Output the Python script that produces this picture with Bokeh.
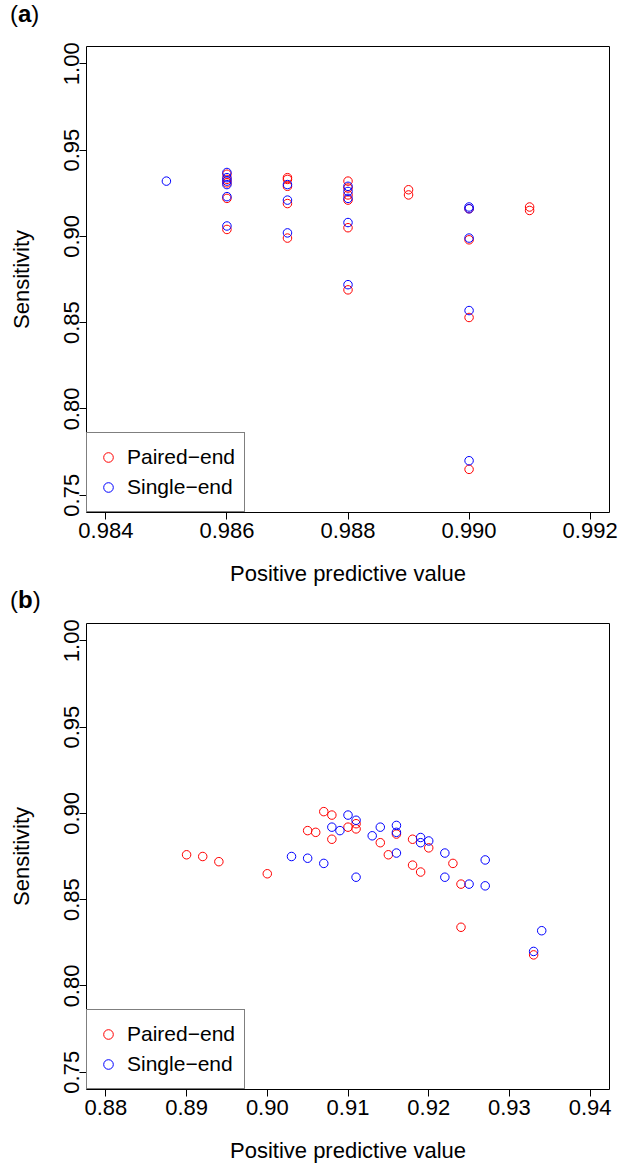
from bokeh.plotting import figure
from bokeh.models import Range1d, FixedTicker, PrintfTickFormatter, Div
from bokeh.layouts import column
from bokeh.embed import file_html
from bokeh.resources import INLINE

FONT = "Liberation Sans"

# ---------------- data: panel (a) ----------------
a_paired_ppv = [0.986, 0.986, 0.986, 0.986, 0.986,
                0.987, 0.987, 0.987, 0.987, 0.987,
                0.988, 0.988, 0.988, 0.988, 0.988, 0.988,
                0.989, 0.989,
                0.990, 0.990, 0.990, 0.990,
                0.991, 0.991]
a_paired_sens = [0.936, 0.933, 0.931, 0.922, 0.904,
                 0.934, 0.933, 0.929, 0.919, 0.899,
                 0.932, 0.928, 0.924, 0.921, 0.905, 0.869,
                 0.927, 0.924,
                 0.916, 0.898, 0.853, 0.765,
                 0.917, 0.915]
a_single_ppv = [0.985,
                0.986, 0.986, 0.986, 0.986, 0.986, 0.986,
                0.987, 0.987, 0.987,
                0.988, 0.988, 0.988, 0.988, 0.988,
                0.990, 0.990, 0.990, 0.990, 0.990]
a_single_sens = [0.932,
                 0.937, 0.934, 0.932, 0.930, 0.923, 0.906,
                 0.930, 0.921, 0.902,
                 0.929, 0.926, 0.922, 0.908, 0.872,
                 0.917, 0.916, 0.899, 0.857, 0.770]

# ---------------- data: panel (b) ----------------
b_paired_ppv = [0.890, 0.892, 0.894, 0.900, 0.905, 0.906, 0.907, 0.908, 0.908,
                0.910, 0.911, 0.911, 0.914, 0.915, 0.916, 0.918, 0.918, 0.919,
                0.920, 0.923, 0.924, 0.924, 0.933]
b_paired_sens = [0.876, 0.875, 0.872, 0.865, 0.890, 0.889, 0.901, 0.899, 0.885,
                 0.892, 0.894, 0.891, 0.883, 0.876, 0.888, 0.885, 0.870, 0.866,
                 0.880, 0.871, 0.859, 0.834, 0.818]
b_single_ppv = [0.903, 0.905, 0.907, 0.908, 0.909, 0.910, 0.911, 0.911, 0.913,
                0.914, 0.916, 0.916, 0.916, 0.919, 0.919, 0.920, 0.922, 0.922,
                0.925, 0.927, 0.927, 0.933, 0.934]
b_single_sens = [0.875, 0.874, 0.871, 0.892, 0.890, 0.899, 0.896, 0.863, 0.887,
                 0.892, 0.893, 0.889, 0.877, 0.886, 0.883, 0.884, 0.877, 0.863,
                 0.859, 0.873, 0.858, 0.820, 0.832]

# ---------------- ticks / labels ----------------
a_x_ticks = [0.984, 0.986, 0.988, 0.990, 0.992]
b_x_ticks = [0.88, 0.89, 0.90, 0.91, 0.92, 0.93, 0.94]
y_ticks = [0.75, 0.80, 0.85, 0.90, 0.95, 1.00]
series_names = ["Paired\u2212end", "Single\u2212end"]
series_colors = ["#FF0000", "#0000FF"]
x_title = "Positive predictive value"
y_title = "Sensitivity"
panel_tags = ["a", "b"]

WIDTH = 619


def pad(lo, hi, f=0.04):
    d = (hi - lo) * f
    return lo - d, hi + d


def tag_div(tag, height, top):
    html = ('<div style="position:relative; left:10px; top:%dpx; '
            'font-family:\'Liberation Sans\'; font-size:24px; line-height:24px; '
            'color:black; white-space:nowrap;">(<b>%s</b>)</div>' % (top, tag))
    return Div(text=html, width=WIDTH, height=height, margin=0)


def make_panel(px, py, sx, sy, xticks, xfmt, height, top, bottom):
    xr = pad(min(xticks), max(xticks))
    yr = pad(min(y_ticks), max(y_ticks))
    p = figure(width=WIDTH, height=height, output_backend="svg",
               toolbar_location=None,
               x_range=Range1d(*xr), y_range=Range1d(*yr),
               min_border_left=86, min_border_right=10,
               min_border_top=top, min_border_bottom=bottom)
    p.background_fill_color = "white"
    p.border_fill_color = "white"
    p.outline_line_color = "black"
    p.outline_line_width = 1
    p.grid.visible = False

    p.scatter(px, py, marker="circle", size=8.5, fill_color=None,
              line_color=series_colors[0], line_width=1,
              legend_label=series_names[0])
    p.scatter(sx, sy, marker="circle", size=8.5, fill_color=None,
              line_color=series_colors[1], line_width=1,
              legend_label=series_names[1])

    for ax in (p.xaxis[0], p.yaxis[0]):
        ax.axis_line_color = None
        ax.major_tick_line_color = "black"
        ax.major_tick_in = 0
        ax.major_tick_out = 7
        ax.minor_tick_line_color = None
        ax.major_label_text_font = FONT
        ax.major_label_text_font_size = "22px"
        ax.major_label_text_color = "black"
        ax.axis_label_text_font = FONT
        ax.axis_label_text_font_size = "22px"
        ax.axis_label_text_font_style = "normal"
        ax.axis_label_text_color = "black"

    p.xaxis.ticker = FixedTicker(ticks=xticks)
    p.xaxis.formatter = PrintfTickFormatter(format=xfmt)
    p.xaxis.major_label_standoff = 3
    p.xaxis.axis_label = x_title
    p.xaxis.axis_label_standoff = 20

    p.yaxis.ticker = FixedTicker(ticks=y_ticks)
    p.yaxis.formatter = PrintfTickFormatter(format="%.2f")
    p.yaxis.major_label_orientation = "parallel"
    p.yaxis.major_label_standoff = 0
    p.yaxis.axis_label = y_title
    p.yaxis.axis_label_standoff = 28

    lg = p.legend[0]
    lg.location = "bottom_left"
    lg.margin = 0
    lg.padding = 9
    lg.spacing = 0
    lg.label_height = 30
    lg.glyph_height = 30
    lg.glyph_width = 24
    lg.label_standoff = 7
    lg.label_text_font = FONT
    lg.label_text_font_size = "21px"
    lg.label_text_color = "black"
    lg.border_line_color = "black"
    lg.border_line_width = 1
    lg.background_fill_color = "white"
    lg.background_fill_alpha = 1
    return p


div_a = tag_div(panel_tags[0], 30, 2)
p1 = make_panel(a_paired_ppv, a_paired_sens, a_single_ppv, a_single_sens,
                a_x_ticks, "%.3f", height=558, top=16, bottom=74)
div_b = tag_div(panel_tags[1], 25, 0)
p2 = make_panel(b_paired_ppv, b_paired_sens, b_single_ppv, b_single_sens,
                b_x_ticks, "%.2f", height=552, top=10, bottom=74)

layout = column(div_a, p1, div_b, p2, spacing=0)
open("out.html", "w").write(file_html(layout, INLINE))
